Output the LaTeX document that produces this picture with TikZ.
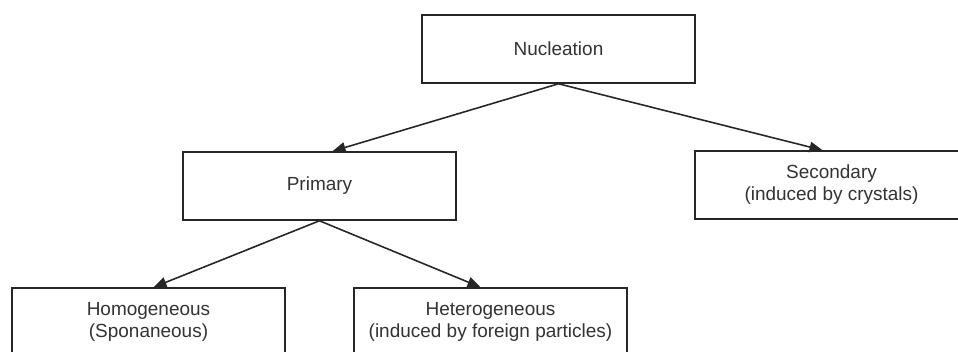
\documentclass[tikz,border=0pt]{standalone}
\usepackage{fontspec}
\setmainfont{Liberation Sans}
\usetikzlibrary{arrows.meta}

\begin{document}
\begin{tikzpicture}[x = .02cm, y = -.02cm,
  box/.style = {draw = black!85, line width = .9pt, fill = white, align = center,
    minimum width = 5.46cm, minimum height = 1.36cm, inner sep = 0pt,
    font = \fontsize{10.8}{12.5}\selectfont, text = black!80},
  link/.style = {-{Triangle[length = .26cm, width = .21cm]}, line width = .9pt, draw = black!85}]
\useasboundingbox (0,0) rectangle (958,352);
\node[box] (nuc) at (558.5,49) {Nucleation};
\node[box] (prim) at (319.5,186) {Primary};
\node[box] (sec) at (831.5,185) {Secondary\\(induced by crystals)};
\node[box] (homo) at (148.5,322) {Homogeneous\\(Sponaneous)};
\node[box] (hetero) at (490.5,322) {Heterogeneous\\(induced by foreign particles)};
\draw[link] (nuc.south) -- ([xshift = .26cm]prim.north);
\draw[link] (nuc.south) -- ([xshift = -.18cm]sec.north);
\draw[link] (prim.south) -- ([xshift = .1cm]homo.north);
\draw[link] (prim.south) -- ([xshift = -.2cm]hetero.north);
\end{tikzpicture}
\end{document}
